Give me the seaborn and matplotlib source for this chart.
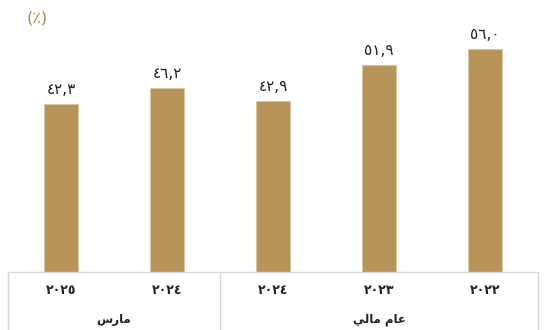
import pandas as pd
import matplotlib
matplotlib.use('Agg')
import matplotlib.pyplot as plt
import seaborn as sns

# data (left to right as drawn)
years = ['٢٠٢٥', '٢٠٢٤', '٢٠٢٤', '٢٠٢٣', '٢٠٢٢']
groups = ['march', 'march', 'fy', 'fy', 'fy']
values = [42.3, 46.2, 42.9, 51.9, 56.0]
# Arabic group titles, written in shaped presentation forms (visual order)
group_labels = {'march': '\uFEB1\uFEAD\uFE8E\uFEE3',                            # مارس
                'fy': '\uFEF2\uFEDF\uFE8E\uFEE3 \uFEE1\uFE8E\uFECB'}            # عام مالي
unit_label = '(٪)'

AR_DIGITS = str.maketrans('0123456789', '٠١٢٣٤٥٦٧٨٩')

def ar_num(v):
    return f'{v:.1f}'.replace('.', ',').translate(AR_DIGITS)

df = pd.DataFrame({'key': [f'{g}-{y}' for g, y in zip(groups, years)],
                   'value': values})

sns.set_style('white')
plt.rcParams['font.family'] = ['DejaVu Sans']

fig = plt.figure(figsize=(5.45, 3.30), dpi=100)
ax = fig.add_axes([8 / 545, 1 - 272 / 330, 530 / 545, 272 / 330])

sns.barplot(data=df, x='key', y='value', color='#B8945A', width=0.32,
            saturation=1, edgecolor='#d9c7a3', linewidth=0.6, ax=ax)

ax.set_ylim(0, 272 / 3.98)
ax.set_xlim(-0.5, 4.5)
ax.set_xlabel('')
ax.set_ylabel('')
ax.set_yticks([])
ax.set_xticks(range(len(years)))
ax.set_xticklabels(years, fontsize=9, fontweight='bold', color='#222222')
ax.tick_params(axis='x', length=0, pad=9)
for s in ax.spines.values():
    s.set_visible(False)

# value labels
for p, v in zip(ax.patches, values):
    ax.annotate(ar_num(v), (p.get_x() + p.get_width() / 2, p.get_height()),
                xytext=(0, 5), textcoords='offset points',
                ha='center', va='bottom', fontsize=11, color='#222222')

# table grid under the bars
line_kw = dict(color='#d6d6d6', lw=1, transform=ax.transAxes, clip_on=False)
bottom = -58 / 272
ax.plot([0, 1], [0, 0], **line_kw)
ax.plot([0, 0], [0, bottom], **line_kw)
ax.plot([1, 1], [0, bottom], **line_kw)
ax.plot([0.4, 0.4], [0, bottom], **line_kw)

# group titles
ax.text(0.2, -48 / 272, group_labels['march'], transform=ax.transAxes,
        ha='center', va='center', fontsize=8.5, fontweight='bold', color='#222222')
ax.text(0.7, -48 / 272, group_labels['fy'], transform=ax.transAxes,
        ha='center', va='center', fontsize=8.5, fontweight='bold', color='#222222')

# unit label
fig.text(37 / 545, 1 - 18 / 330, unit_label, ha='center', va='center',
         fontsize=11.5, color='#B5824A')

fig.savefig('out.png', dpi=100)
